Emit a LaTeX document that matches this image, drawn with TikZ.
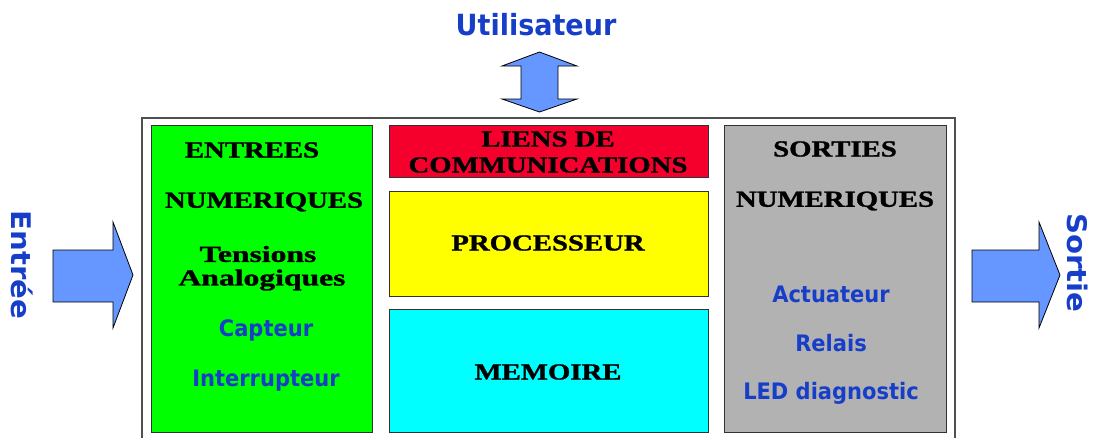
\documentclass[tikz,border=0pt]{standalone}
\usepackage{fontspec}
\setmainfont{Liberation Serif}
\newfontfamily\headfont{Liberation Serif}[FakeBold=1.2]
\newfontfamily\labelfont{DejaVu Sans}
\definecolor{txtblue}{RGB}{22,62,200}
\definecolor{arrowblue}{RGB}{102,150,255}
\definecolor{boxgreen}{RGB}{0,255,0}
\definecolor{boxred}{RGB}{245,0,45}
\definecolor{boxyellow}{RGB}{255,255,0}
\definecolor{boxcyan}{RGB}{0,255,255}
\definecolor{boxgray}{RGB}{178,178,178}
\definecolor{framegray}{RGB}{80,80,80}
\tikzset{
  blockbox/.style={draw=black!80, line width=1.2pt, anchor=north west, inner sep=0pt},
  title/.style={font=\headfont\fontsize{23}{23}\selectfont\bfseries, xscale=1.25, inner sep=0pt, text=black},
  subtitle/.style={title, font=\headfont\fontsize{23}{23}\selectfont\bfseries, xscale=1.1},
  item/.style={font=\labelfont\fontsize{21}{21}\selectfont\bfseries, inner sep=0pt, text=txtblue, yscale=1.08},
  biglabel/.style={font=\labelfont\fontsize{27}{27}\selectfont\bfseries, inner sep=0pt, text=txtblue, yscale=1.08},
  fatarrow/.style={fill=arrowblue, draw=black, line width=0.8pt, line join=miter}
}
\begin{document}
\begin{tikzpicture}[x=1pt, y=-1pt]
\useasboundingbox (0,0) rectangle (1095,437);

% outer frame (open at the bottom)
\draw[framegray, line width=2pt] (142,445) -- (142,118) -- (955,118) -- (955,445);

% blocks
\node[blockbox, fill=boxgreen,  minimum width=221pt, minimum height=307pt] (inputs)  at (151,125) {};
\node[blockbox, fill=boxred,    minimum width=319pt, minimum height=52pt]  (comms)   at (389,125) {};
\node[blockbox, fill=boxyellow, minimum width=319pt, minimum height=105pt] (cpu)     at (389,191) {};
\node[blockbox, fill=boxcyan,   minimum width=319pt, minimum height=123pt] (memory)  at (389,309) {};
\node[blockbox, fill=boxgray,   minimum width=222pt, minimum height=307pt] (outputs) at (724,125) {};

% input block texts
\node[title] (in1) at (252,150) {ENTREES};
\node[title] (in2) at (264,202) {NUMERIQUES};
\node[subtitle] (in3) at (258,254) {Tensions};
\node[subtitle] (in4) at (262,280) {Analogiques};
\node[item] (in5) at (266,330) {Capteur};
\node[item] (in6) at (266,381) {Interrupteur};

% centre column texts
\node[title] (c1) at (548,139) {LIENS DE};
\node[title] (c2) at (548,165) {COMMUNICATIONS};
\node[title] (c3) at (548,243) {PROCESSEUR};
\node[title] (c4) at (548,372) {MEMOIRE};

% output block texts
\node[title] (out1) at (835,149) {SORTIES};
\node[title] (out2) at (835,201) {NUMERIQUES};
\node[item] (out3) at (831,294) {Actuateur};
\node[item] (out4) at (831,343) {Relais};
\node[item] (out5) at (831,393) {LED diagnostic};

% outer labels
\node[biglabel] (user) at (536,25) {Utilisateur};
\node[biglabel, rotate=-90] (inlabel) at (22,265) {Entrée};
\node[biglabel, rotate=-90] (outlabel) at (1078,263) {Sortie};

% user double arrow
\draw[fatarrow] (539.5,52) -- (577,66) -- (558,66) -- (558,99) -- (577,99)
  -- (539.5,112) -- (502,99) -- (521,99) -- (521,66) -- (502,66) -- cycle;

% input arrow
\draw[fatarrow] (53,250) -- (113,250) -- (113,222) -- (133,275) -- (113,328)
  -- (113,302) -- (53,302) -- cycle;

% output arrow
\draw[fatarrow] (972,250) -- (1039,250) -- (1039,222) -- (1060,275) -- (1039,328)
  -- (1039,302) -- (972,302) -- cycle;
\end{tikzpicture}
\end{document}
